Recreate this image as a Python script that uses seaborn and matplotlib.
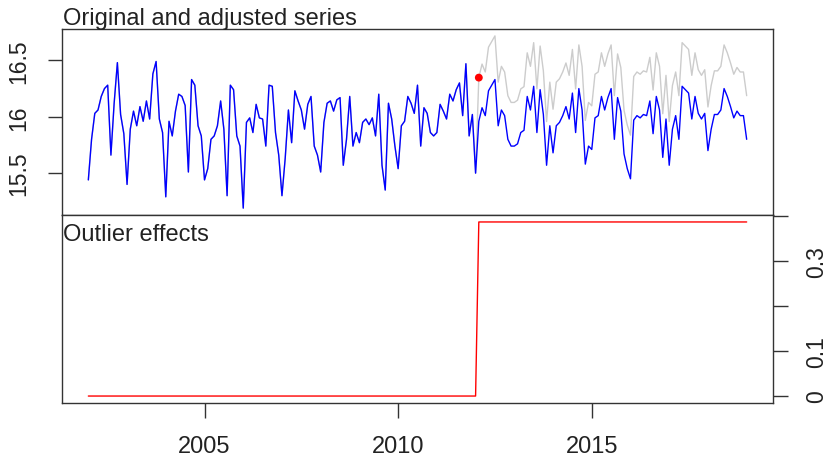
import numpy as np
import pandas as pd
import matplotlib
matplotlib.use("Agg")
import matplotlib.pyplot as plt
import seaborn as sns

# ---- data ----
start_year = 2002  # monthly series starting Jan 2002
adjusted = [
    15.44, 15.80, 16.03, 16.06, 16.18, 16.25, 16.28, 15.66, 16.12, 16.48,
    16.02, 15.85, 15.40, 15.89, 16.05, 15.92, 16.09, 15.96, 16.14, 15.98,
    16.38, 16.49, 15.98, 15.86, 15.29, 15.96, 15.83, 16.05, 16.20, 16.18,
    16.10, 15.51, 16.33, 16.28, 15.92, 15.83, 15.44, 15.54, 15.80, 15.83,
    15.92, 16.14, 15.89, 15.30, 16.28, 16.24, 15.83, 15.74, 15.19, 15.95,
    15.99, 15.86, 16.11, 15.99, 15.98, 15.74, 16.28, 16.27, 15.86, 15.66,
    15.30, 15.63, 16.06, 15.77, 16.23, 16.14, 16.06, 15.89, 16.11, 16.18,
    15.74, 15.66, 15.51, 15.95, 16.12, 16.14, 16.05, 16.15, 16.17, 15.57,
    15.80, 16.18, 15.74, 15.86, 15.77, 15.95, 15.98, 15.93, 15.99, 15.83,
    16.20, 15.57, 15.35, 16.12, 15.98, 15.74, 15.54, 15.92, 15.96, 16.18,
    16.12, 16.03, 16.28, 15.74, 16.08, 16.03, 15.86, 15.83, 15.86, 16.11,
    16.05, 15.98, 16.20, 16.14, 16.24, 16.30, 16.01, 16.47, 15.83, 16.02,
    15.50, 15.96, 16.08, 16.01, 16.23, 16.28, 16.33, 15.92, 16.06, 16.01,
    15.80, 15.74, 15.74, 15.76, 15.86, 15.88, 16.18, 16.06, 16.27, 15.86,
    16.24, 16.02, 15.57, 15.92, 15.68, 15.92, 15.95, 16.01, 16.09, 15.98,
    16.21, 15.86, 16.25, 16.06, 15.58, 15.74, 15.71, 15.99, 16.01, 16.18,
    16.06, 16.17, 16.25, 15.80, 16.17, 16.05, 15.67, 15.54, 15.45, 15.97,
    16.01, 15.99, 16.02, 16.01, 16.14, 15.85, 16.18, 16.06, 15.64, 15.98,
    15.57, 15.89, 16.01, 15.80, 16.27, 16.24, 16.21, 15.98, 16.18, 16.03,
    15.98, 16.03, 15.70, 15.89, 16.02, 16.02, 16.06, 16.25, 16.18, 16.09,
    15.99, 16.05, 16.01, 16.01, 15.80,
]
shift_index = 121        # level shift at Feb 2012
shift_size = 0.387       # outlier (level shift) effect
x_ticks = [2005, 2010, 2015]
x_labels = ["2005", "2010", "2015"]
top_yticks = [15.5, 16.0, 16.5]
top_ylabels = ["15.5", "16", "16.5"]
eff_yticks = [0.0, 0.1, 0.2, 0.3, 0.4]
eff_ylabels = ["0", "0.1", "", "0.3", ""]
title_top = "Original and adjusted series"
title_bottom = "Outlier effects"

# ---- derived table ----
n = len(adjusted)
idx = np.arange(n)
time = start_year + idx / 12.0
effect = np.where(idx >= shift_index, shift_size, 0.0)
original = np.asarray(adjusted) + effect
df = pd.DataFrame({"time": time, "adjusted": adjusted,
                   "original": original, "effect": effect})
pt = df.iloc[[shift_index]]

sns.set_theme(style="white")
plt.rcParams["font.family"] = ["Liberation Sans", "DejaVu Sans"]

W, H = 827, 464
fig = plt.figure(figsize=(W / 100, H / 100), dpi=100)


def frac(l, t, r, b):
    return [l / W, 1 - b / H, (r - l) / W, (b - t) / H]


ax1 = fig.add_axes(frac(62, 30, 773, 216))
ax2 = fig.add_axes(frac(62, 216, 773, 404))

def rlim(lo, hi):
    d = (hi - lo) * 0.04
    return lo - d, hi + d

xlim = rlim(time.min(), time.max())

# top panel
sns.lineplot(data=df, x="time", y="original", color="#cccccc", lw=1.0,
             ax=ax1, sort=False, estimator=None)
sns.lineplot(data=df, x="time", y="adjusted", color="blue", lw=1.0,
             ax=ax1, sort=False, estimator=None)
sns.scatterplot(data=pt, x="time", y="original", color="red", s=32,
                edgecolor="none", ax=ax1, zorder=5)
ax1.set_xlim(*xlim)
ax1.set_ylim(*rlim(min(df.adjusted.min(), df.original.min()),
                   max(df.adjusted.max(), df.original.max())))
ax1.set_xticks([])
ax1.set_yticks(top_yticks)
ax1.set_yticklabels(top_ylabels, rotation=90, va="center")
ax1.set_xlabel("")
ax1.set_ylabel("")
ax1.tick_params(axis="y", direction="out", length=10, width=1,
                color="#333333", pad=13, labelsize=16.5, labelcolor="#222222",
                left=True)

# bottom panel
sns.lineplot(data=df, x="time", y="effect", color="red", lw=1.0,
             ax=ax2, sort=False, estimator=None)
ax2.set_xlim(*xlim)
ax2.set_ylim(*rlim(0, shift_size))
ax2.yaxis.tick_right()
ax2.set_yticks(eff_yticks)
ax2.set_yticklabels(eff_ylabels, rotation=90, va="center")
ax2.set_xticks(x_ticks)
ax2.set_xticklabels(x_labels)
ax2.set_xlabel("")
ax2.set_ylabel("")
ax2.tick_params(axis="y", direction="out", length=11, width=1,
                color="#333333", pad=12, labelsize=16.5, labelcolor="#222222",
                right=True, left=False)
ax2.tick_params(axis="x", direction="out", length=11, width=1,
                color="#333333", pad=12, labelsize=17, labelcolor="#222222",
                bottom=True)

for ax in (ax1, ax2):
    for s in ax.spines.values():
        s.set_visible(True)
        s.set_color("#333333")
        s.set_linewidth(1.0)

fig.text(63 / W, 1 - 25 / H, title_top, fontsize=17, color="#222222",
         ha="left", va="baseline")
fig.text(63 / W, 1 - 241 / H, title_bottom, fontsize=17, color="#222222",
         ha="left", va="baseline")

fig.savefig("out.png", dpi=100)
